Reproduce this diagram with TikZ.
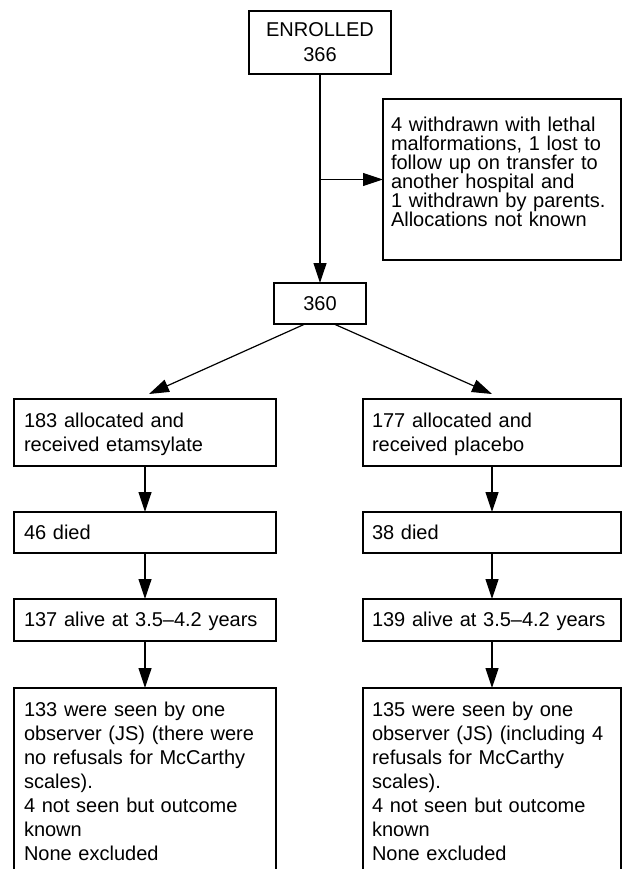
\documentclass[tikz,border=0pt]{standalone}
\usepackage{fontspec}
\setmainfont{Liberation Sans}
\usetikzlibrary{arrows.meta}
\begin{document}
\begin{tikzpicture}[x=1pt,y=-1pt,
  base/.style={draw, line width=1.2pt, inner ysep=0pt, outer sep=0pt,
    font=\fontsize{20}{24}\selectfont},
  lbox/.style={base, anchor=north west, align=left,
    execute at begin node={\hyphenpenalty=10000\exhyphenpenalty=10000}},
  lcol/.style={lbox, text width=242pt, inner xsep=10pt},
  rcol/.style={lbox, text width=240pt, inner xsep=9pt},
  arr/.style={-{Triangle[length=20pt,width=13pt]}, line width=1.2pt}
]
\useasboundingbox (0,0) rectangle (622,869);
\clip (0,0) rectangle (622,869);

\node[base, anchor=north west, minimum width=142pt, minimum height=63pt,
  align=center, font=\fontsize{20}{25}\selectfont] (enr) at (249,11) {ENROLLED\\366};

\node[lbox, text width=222pt, inner xsep=8pt, text height=32.7pt, text depth=128.3pt,
  font=\fontsize{20}{18.9}\selectfont] (side) at (383,99)
  {4 withdrawn with lethal\\malformations, 1 lost to\\follow up on transfer to\\another hospital and\\1 withdrawn by parents.\\Allocations not known};

\node[base, anchor=north west, minimum width=92pt, minimum height=41pt] (n360) at (274,283) {360};

% left column
\node[lcol, text height=28pt, text depth=39pt] (b1) at (14,399) {183 allocated and\\received etamsylate};
\node[lcol, text height=27pt, text depth=14pt] (d1) at (14,512) {46 died};
\node[lcol, text height=27pt, text depth=15pt] (a1) at (14,599) {137 alive at 3.5--4.2 years};
\node[lcol, text height=28pt, text depth=250pt] (s1) at (14,688)
  {133 were seen by one\\observer (JS) (there were\\no refusals for McCarthy\\scales).\\4 not seen but outcome\\known\\None excluded};

% right column
\node[rcol, text height=28pt, text depth=39pt] (b2) at (363,399) {177 allocated and\\received placebo};
\node[rcol, text height=27pt, text depth=14pt] (d2) at (363,512) {38 died};
\node[rcol, text height=27pt, text depth=15pt] (a2) at (363,599) {139 alive at 3.5--4.2 years};
\node[rcol, text height=28pt, text depth=250pt] (s2) at (363,688)
  {135 were seen by one\\observer (JS) (including 4\\refusals for McCarthy\\scales).\\4 not seen but outcome\\known\\None excluded};

% connectors
\draw[arr] (enr.south) -- (n360.north);
\coordinate (br) at (enr.south |- side.west);
\draw[arr] (br) -- (side.west);
\draw[arr] ([xshift=-15pt]n360.south) -- ([xshift=4pt,yshift=5pt]b1.north);
\draw[arr] ([xshift=14pt]n360.south) -- ([yshift=5pt]b2.north);
\draw[arr] (b1.south) -- (d1.north);
\draw[arr] (d1.south) -- (a1.north);
\draw[arr] (a1.south) -- (s1.north);
\draw[arr] (b2.south) -- (d2.north);
\draw[arr] (d2.south) -- (a2.north);
\draw[arr] (a2.south) -- (s2.north);
\end{tikzpicture}
\end{document}
